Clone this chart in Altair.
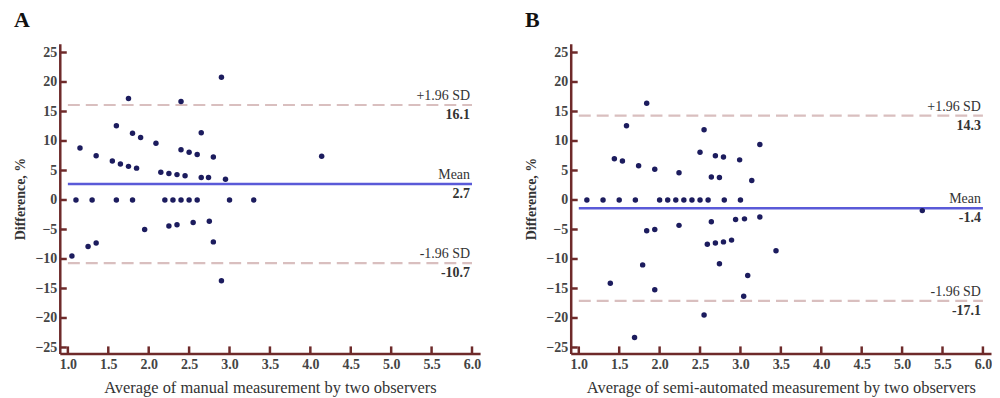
import altair as alt
import pandas as pd

# ---------------- data ----------------
# Panel A: manual measurement
a_x = [1.10, 1.30, 1.60, 1.80, 2.20, 2.30, 2.40, 2.50, 2.60, 3.00, 3.30,
       2.90, 1.75, 2.40, 1.60, 1.80, 1.90, 2.65, 2.09, 1.15, 2.40, 2.50, 2.60,
       1.35, 2.80, 1.55, 1.65, 1.75, 1.85, 2.15, 2.25, 2.35, 2.45, 2.65, 2.74,
       2.95, 4.14,
       1.95, 2.25, 2.35, 2.55, 2.75, 1.25, 1.35, 2.80, 1.05, 2.90]
a_y = [0, 0, 0, 0, 0, 0, 0, 0, 0, 0, 0,
       20.8, 17.2, 16.7, 12.6, 11.3, 10.6, 11.4, 9.6, 8.8, 8.5, 8.1, 7.7,
       7.5, 7.3, 6.6, 6.1, 5.7, 5.4, 4.7, 4.5, 4.3, 4.1, 3.8, 3.8,
       3.5, 7.4,
       -5.0, -4.4, -4.2, -3.8, -3.6, -7.9, -7.3, -7.1, -9.5, -13.7]
a_limits = [16.1, 2.7, -10.7]

# Panel B: semi-automated measurement
b_x = [1.1, 1.3, 1.5, 1.7, 2.0, 2.1, 2.2, 2.3, 2.4, 2.5, 2.6, 2.8, 3.0,
       1.84, 1.59, 2.55, 3.24, 2.50, 2.69, 2.79, 1.44, 1.54, 2.99, 1.74, 1.94,
       2.24, 2.64, 2.74, 3.14,
       2.64, 2.94, 3.05, 3.24, 2.24, 1.84, 1.94, 2.59, 2.69, 2.79, 2.89, 3.44,
       1.79, 2.74, 3.09, 1.39, 1.94, 3.04, 2.55, 1.69, 5.25]
b_y = [0, 0, 0, 0, 0, 0, 0, 0, 0, 0, 0, 0, 0,
       16.4, 12.6, 11.9, 9.4, 8.1, 7.5, 7.3, 7.0, 6.6, 6.8, 5.8, 5.2,
       4.6, 3.9, 3.8, 3.3,
       -3.7, -3.3, -3.2, -2.9, -4.3, -5.2, -5.0, -7.5, -7.3, -7.1, -6.8, -8.6,
       -11.0, -10.8, -12.8, -14.1, -15.2, -16.3, -19.5, -23.3, -1.8]
b_limits = [14.3, -1.4, -17.1]

limit_names = ["+1.96 SD", "Mean", "-1.96 SD"]
limit_kind = ["sd", "mean", "sd"]
line_start = 1.0
line_end = 6.0

x_ticks = [1.0, 1.5, 2.0, 2.5, 3.0, 3.5, 4.0, 4.5, 5.0, 5.5, 6.0]
y_ticks = [-25, -20, -15, -10, -5, 0, 5, 10, 15, 20, 25]

x_domain = [0.9, 6.1]
y_domain = [-26, 26.5]

# ---------------- style ----------------
W, H = 422, 311
FONT = "Liberation Serif"
AXIS_COLOR = "#6e2a2a"
DOT_COLOR = "#1c1c5e"
MEAN_COLOR = "#5a5ad8"
SD_COLOR = "#d9bfbf"
TEXT_COLOR = "#333333"


def panel(letter, xs, ys, limits, xtitle):
    xscale = alt.Scale(domain=x_domain, nice=False, zero=False)
    yscale = alt.Scale(domain=y_domain, nice=False, zero=False)
    xaxis = alt.Axis(values=x_ticks, format=".1f", title=xtitle, grid=False,
                     ticks=False, domainColor=AXIS_COLOR, domainWidth=2.5,
                     labelFont=FONT, labelFontSize=14, labelFontWeight="bold",
                     labelColor="#444444", labelPadding=4,
                     titleFont=FONT, titleFontSize=16.5, titleFontWeight="normal",
                     titleColor=TEXT_COLOR, titlePadding=8, labelFlush=False)
    yaxis = alt.Axis(values=y_ticks, format="d", title="Difference, %", grid=False,
                     ticks=False, domainColor=AXIS_COLOR, domainWidth=2.5,
                     labelFont=FONT, labelFontSize=14, labelFontWeight="bold",
                     labelColor="#444444", labelPadding=3,
                     titleFont=FONT, titleFontSize=14, titleFontWeight="bold",
                     titleColor=TEXT_COLOR, titlePadding=7)

    pts = pd.DataFrame({"x": xs, "y": ys})
    lines = pd.DataFrame({
        "y": limits,
        "x1": [line_start] * 3,
        "x2": [line_end] * 3,
        "kind": limit_kind,
        "name": limit_names,
        "val": [f"{v:.1f}" for v in limits],
    })
    xt = pd.DataFrame({"v": x_ticks})
    yt = pd.DataFrame({"v": y_ticks})

    X = lambda f: alt.X(f, scale=xscale, axis=xaxis)
    Y = lambda f: alt.Y(f, scale=yscale, axis=yaxis)

    sd = alt.Chart(lines).transform_filter(alt.datum.kind == "sd").mark_rule(
        color=SD_COLOR, strokeWidth=2.2, strokeDash=[12, 6]
    ).encode(x=X("x1:Q"), x2="x2:Q", y=Y("y:Q"))
    mean = alt.Chart(lines).transform_filter(alt.datum.kind == "mean").mark_rule(
        color=MEAN_COLOR, strokeWidth=2.5
    ).encode(x=X("x1:Q"), x2="x2:Q", y=Y("y:Q"))
    top_txt = alt.Chart(lines).mark_text(
        align="right", baseline="bottom", dy=-2, dx=-2, font=FONT, fontSize=14,
        color=TEXT_COLOR
    ).encode(x=X("x2:Q"), y=Y("y:Q"), text="name:N")
    val_txt = alt.Chart(lines).mark_text(
        align="right", baseline="top", dy=3, dx=-2, font=FONT, fontSize=14,
        fontWeight="bold", color=TEXT_COLOR
    ).encode(x=X("x2:Q"), y=Y("y:Q"), text="val:N")
    dots = alt.Chart(pts).mark_circle(size=30, color=DOT_COLOR, opacity=1).encode(
        x=X("x:Q"), y=Y("y:Q"))
    xtick = alt.Chart(xt).mark_rule(color=AXIS_COLOR, strokeWidth=2.5).encode(
        x=X("v:Q"), y=alt.value(H), y2=alt.value(H - 7))
    ytick = alt.Chart(yt).mark_rule(color=AXIS_COLOR, strokeWidth=2.5).encode(
        y=Y("v:Q"), x=alt.value(0), x2=alt.value(7))

    return alt.layer(sd, mean, xtick, ytick, top_txt, val_txt, dots).properties(
        width=W, height=H,
        title=alt.TitleParams(letter, anchor="start", font=FONT, fontSize=22,
                              fontWeight="bold", color="#111111", offset=12),
    )


left = panel("A", a_x, a_y, a_limits, "Average of manual measurement by two observers")
right = panel("B", b_x, b_y, b_limits, "Average of semi-automated measurement by two observers")

chart = alt.hconcat(left, right, spacing=44).properties(
    padding={"left": 6, "top": 0, "right": 0, "bottom": 0}
).configure_view(stroke=None)

chart.save("out.html", embed_options={"renderer": "svg", "actions": False})
